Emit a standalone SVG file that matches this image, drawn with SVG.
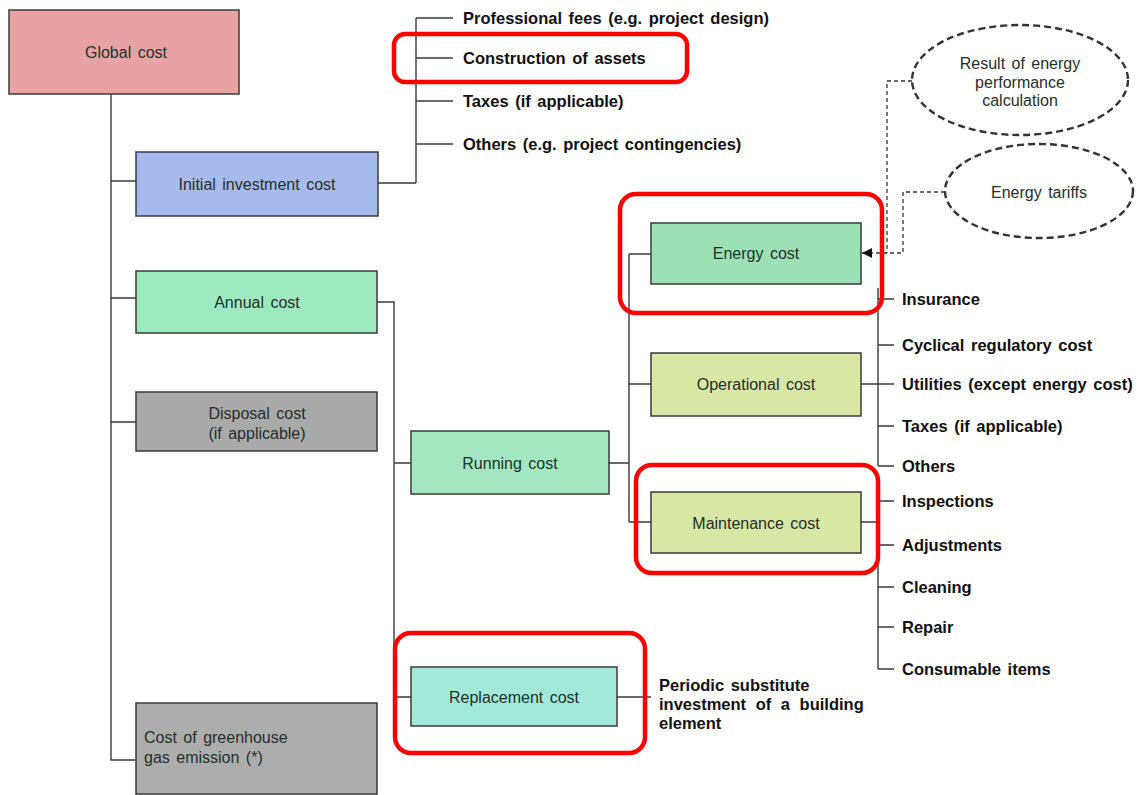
<svg xmlns="http://www.w3.org/2000/svg" width="1143" height="795" viewBox="0 0 1143 795">
<style>
.box{stroke:#3a3a3a;stroke-width:1.5}
.lbl{font-family:"Liberation Sans",Arial,sans-serif;font-size:16px;fill:#23302a;word-spacing:2px}
.item{font-family:"Liberation Sans",Arial,sans-serif;font-size:16.5px;font-weight:bold;fill:#111;word-spacing:2px}
.ln{stroke:#3a3a3a;stroke-width:1.4;fill:none}
.dash{stroke:#333;stroke-width:1.3;fill:none;stroke-dasharray:4 3}
.ell{stroke:#333;stroke-width:2.4;fill:#fff;stroke-dasharray:7 4}
.hl{stroke:#ff0000;stroke-width:4.5;fill:none}
</style>
<defs>
<marker id="arr" viewBox="0 0 10 10" refX="10" refY="5" markerWidth="10" markerHeight="10" markerUnits="userSpaceOnUse" orient="auto">
<path d="M0,0 L10,5 L0,10 z" fill="#111"/>
</marker>
</defs>
<rect width="1143" height="795" fill="#fff"/>
<g id="connectors">
<path class="ln" d="M111,94 V760 H136"/>
<path class="ln" d="M111,181 H136 M111,298 H136 M111,422 H136"/>
<path class="ln" d="M378,183 H416 M416,18 V183 M416,18 H453 M416,58 H453 M416,101 H453 M416,144 H453"/>
<path class="ln" d="M377,302 H394 V697 H411 M394,463 H411"/>
<path class="ln" d="M617,697 H651"/>
<path class="ln" d="M609,463 H629 M629,254 V522 M629,254 H651 M629,384 H651 M629,522 H651"/>
<path class="ln" d="M861,384 H878 M878,288 V466 M878,299 H894 M878,345 H894 M878,384 H894 M878,426 H894 M878,466 H894"/>
<path class="ln" d="M861,522 H878 M878,493 V669 M878,501 H894 M878,545 H894 M878,587 H894 M878,627 H894 M878,669 H894"/>
<path class="dash" d="M912,81 H887 V253"/>
<path class="dash" d="M945,192 H903 V253 H887"/>
<path class="dash" d="M887,253 H862" marker-end="url(#arr)"/>
</g>
<g id="global-cost"><rect class="box" x="9" y="10" width="230" height="84" fill="#e9a2a4"/><text class="lbl" x="126" y="52" text-anchor="middle" dominant-baseline="central">Global cost</text></g>
<g id="initial-investment-cost"><rect class="box" x="136" y="152" width="242" height="64" fill="#a6baee"/><text class="lbl" x="257" y="184" text-anchor="middle" dominant-baseline="central">Initial investment cost</text></g>
<g id="annual-cost"><rect class="box" x="136" y="271" width="241" height="62" fill="#9de9c0"/><text class="lbl" x="257" y="302" text-anchor="middle" dominant-baseline="central">Annual cost</text></g>
<g id="disposal-cost"><rect class="box" x="136" y="392" width="241" height="59" fill="#a9a9a9"/><text class="lbl" x="257" y="413" text-anchor="middle" dominant-baseline="central">Disposal cost</text><text class="lbl" x="257" y="433" text-anchor="middle" dominant-baseline="central">(if applicable)</text></g>
<g id="greenhouse-cost"><rect class="box" x="136" y="703" width="241" height="91" fill="#adadad"/><text class="lbl" x="144" y="737" dominant-baseline="central">Cost of greenhouse</text><text class="lbl" x="144" y="757" dominant-baseline="central">gas emission (*)</text></g>
<g id="running-cost"><rect class="box" x="411" y="431" width="198" height="63" fill="#a2e7c2"/><text class="lbl" x="510" y="463" text-anchor="middle" dominant-baseline="central">Running cost</text></g>
<g id="replacement-cost"><rect class="box" x="411" y="667" width="206" height="59" fill="#a2e9da"/><text class="lbl" x="514" y="697" text-anchor="middle" dominant-baseline="central">Replacement cost</text></g>
<g id="energy-cost"><rect class="box" x="651" y="223" width="210" height="61" fill="#9ce1b6"/><text class="lbl" x="756" y="253" text-anchor="middle" dominant-baseline="central">Energy cost</text></g>
<g id="operational-cost"><rect class="box" x="651" y="353" width="210" height="63" fill="#d9e7a4"/><text class="lbl" x="756" y="384" text-anchor="middle" dominant-baseline="central">Operational cost</text></g>
<g id="maintenance-cost"><rect class="box" x="651" y="492" width="210" height="61" fill="#d9e7a4"/><text class="lbl" x="756" y="523" text-anchor="middle" dominant-baseline="central">Maintenance cost</text></g>
<g id="energy-performance"><ellipse class="ell" cx="1020" cy="80" rx="108" ry="55"/><text class="lbl" x="1020" y="63" text-anchor="middle" dominant-baseline="central">Result of energy</text><text class="lbl" x="1020" y="82" text-anchor="middle" dominant-baseline="central">performance</text><text class="lbl" x="1020" y="100" text-anchor="middle" dominant-baseline="central">calculation</text></g>
<g id="energy-tariffs"><ellipse class="ell" cx="1039" cy="191" rx="94" ry="47"/><text class="lbl" x="1039" y="192" text-anchor="middle" dominant-baseline="central">Energy tariffs</text></g>
<g id="initial-items">
<text class="item" x="463" y="18" dominant-baseline="central">Professional fees (e.g. project design)</text>
<text class="item" x="463" y="58" dominant-baseline="central">Construction of assets</text>
<text class="item" x="463" y="101" dominant-baseline="central">Taxes (if applicable)</text>
<text class="item" x="463" y="144" dominant-baseline="central">Others (e.g. project contingencies)</text>
</g>
<g id="operational-items">
<text class="item" x="902" y="299" dominant-baseline="central">Insurance</text>
<text class="item" x="902" y="345" dominant-baseline="central">Cyclical regulatory cost</text>
<text class="item" x="902" y="384" dominant-baseline="central">Utilities (except energy cost)</text>
<text class="item" x="902" y="426" dominant-baseline="central">Taxes (if applicable)</text>
<text class="item" x="902" y="466" dominant-baseline="central">Others</text>
</g>
<g id="maintenance-items">
<text class="item" x="902" y="501" dominant-baseline="central">Inspections</text>
<text class="item" x="902" y="545" dominant-baseline="central">Adjustments</text>
<text class="item" x="902" y="587" dominant-baseline="central">Cleaning</text>
<text class="item" x="902" y="627" dominant-baseline="central">Repair</text>
<text class="item" x="902" y="669" dominant-baseline="central">Consumable items</text>
</g>
<g id="replacement-items">
<text class="item" x="659" y="685" dominant-baseline="central">Periodic substitute</text>
<text class="item" x="659" y="704" dominant-baseline="central" style="word-spacing:5px">investment of a building</text>
<text class="item" x="659" y="723" dominant-baseline="central">element</text>
</g>
<g id="highlights">
<rect class="hl" x="394" y="34" width="293" height="48" rx="11"/>
<rect class="hl" x="620" y="194" width="262" height="119" rx="16"/>
<rect class="hl" x="636" y="465" width="242" height="108" rx="16"/>
<rect class="hl" x="395" y="633" width="250" height="120" rx="16"/>
</g>
</svg>
